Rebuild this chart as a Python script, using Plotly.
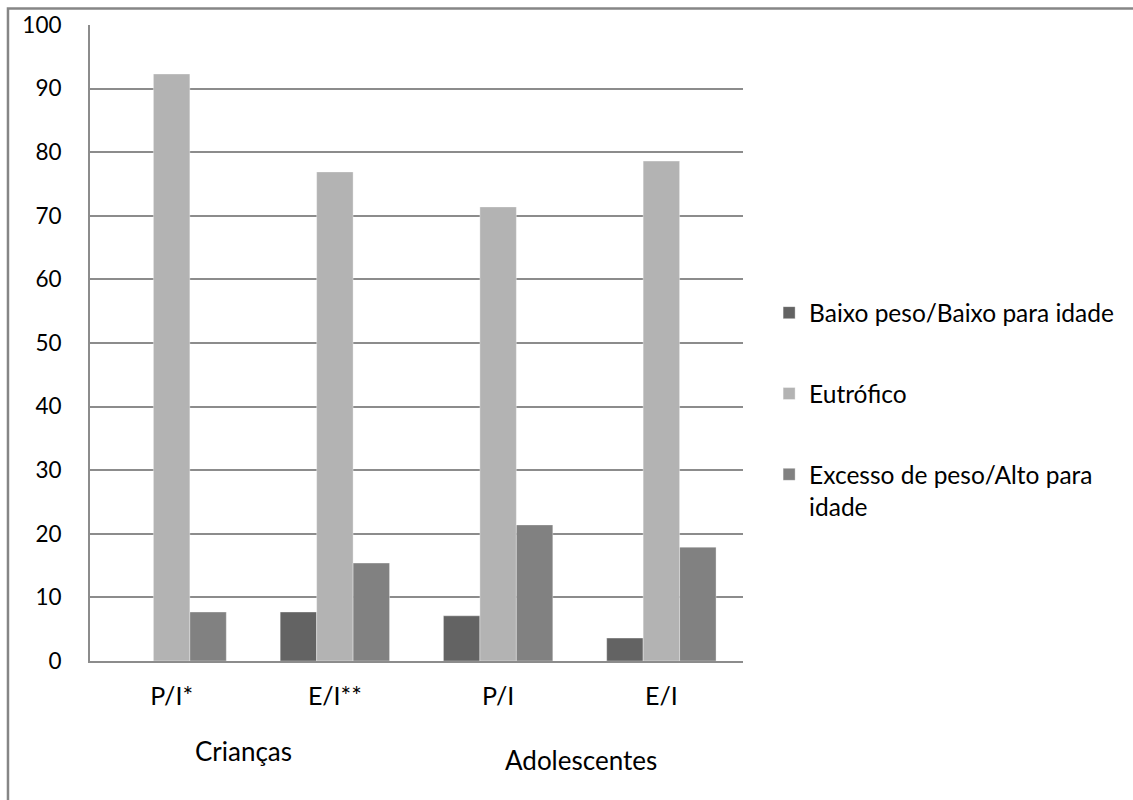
import plotly.graph_objects as go

# Nutritional status by index (% of individuals)
categorias = ["P/I*", "E/I**", "P/I", "E/I"]
baixo_peso = [0.0, 7.7, 7.1, 3.6]
eutrofico = [92.3, 76.9, 71.4, 78.6]
excesso_peso = [7.7, 15.4, 21.4, 17.9]

series = [
    ("Baixo peso/Baixo para idade", baixo_peso, "#636363"),
    ("Eutrófico", eutrofico, "#b3b3b3"),
    ("Excesso de peso/Alto para<br>idade", excesso_peso, "#818181"),
]

grupos = ["Crianças", "Adolescentes"]

FONT = "Lato, 'Open Sans', sans-serif"
GRID = "#8c8c8c"

fig = go.Figure()
for i, (nome, valores, cor) in enumerate(series):
    fig.add_trace(go.Bar(
        x=categorias, y=valores, name=nome,
        marker=dict(color=cor, line=dict(color="rgba(255,255,255,0.35)", width=1)),
        legendgroup=f"g{i}",
    ))

fig.update_layout(
    width=1133, height=800,
    margin=dict(l=90, r=390, t=25, b=139),
    paper_bgcolor="white", plot_bgcolor="white",
    barmode="group", bargap=0.33, bargroupgap=0,
    font=dict(family=FONT, size=23, color="#000000"),
    showlegend=True,
    legend=dict(
        x=1.04, xanchor="left", y=0.583, yanchor="top",
        traceorder="grouped", tracegroupgap=46, valign="top",
        font=dict(family=FONT, size=24.5, color="#000000"),
        itemwidth=30, bgcolor="rgba(0,0,0,0)",
    ),
    xaxis=dict(
        showgrid=False, showline=True, linecolor=GRID, linewidth=2,
        ticks="", ticklabelstandoff=12, zeroline=False,
        tickfont=dict(size=25),
    ),
    yaxis=dict(
        range=[0, 100], tick0=0, dtick=10,
        showgrid=True, gridcolor=GRID, gridwidth=2,
        showline=True, linecolor=GRID, linewidth=2,
        ticks="", ticklabelstandoff=22, zeroline=False,
        tickfont=dict(size=22.5),
    ),
)

# Group labels under the category axis
fig.add_annotation(x=0.44, y=-0.141, xref="x", yref="paper", text=grupos[0],
                   showarrow=False, font=dict(size=26), yanchor="middle")
fig.add_annotation(x=2.51, y=-0.155, xref="x", yref="paper", text=grupos[1],
                   showarrow=False, font=dict(size=26), yanchor="middle")

# Chart-area frame
fig.add_shape(type="rect", xref="paper", yref="paper",
              x0=-0.1256, x1=1.62, y0=-0.24, y1=1.026,
              line=dict(color="#868686", width=2.5), fillcolor="rgba(0,0,0,0)",
              layer="below")

fig.write_html("out.html")
